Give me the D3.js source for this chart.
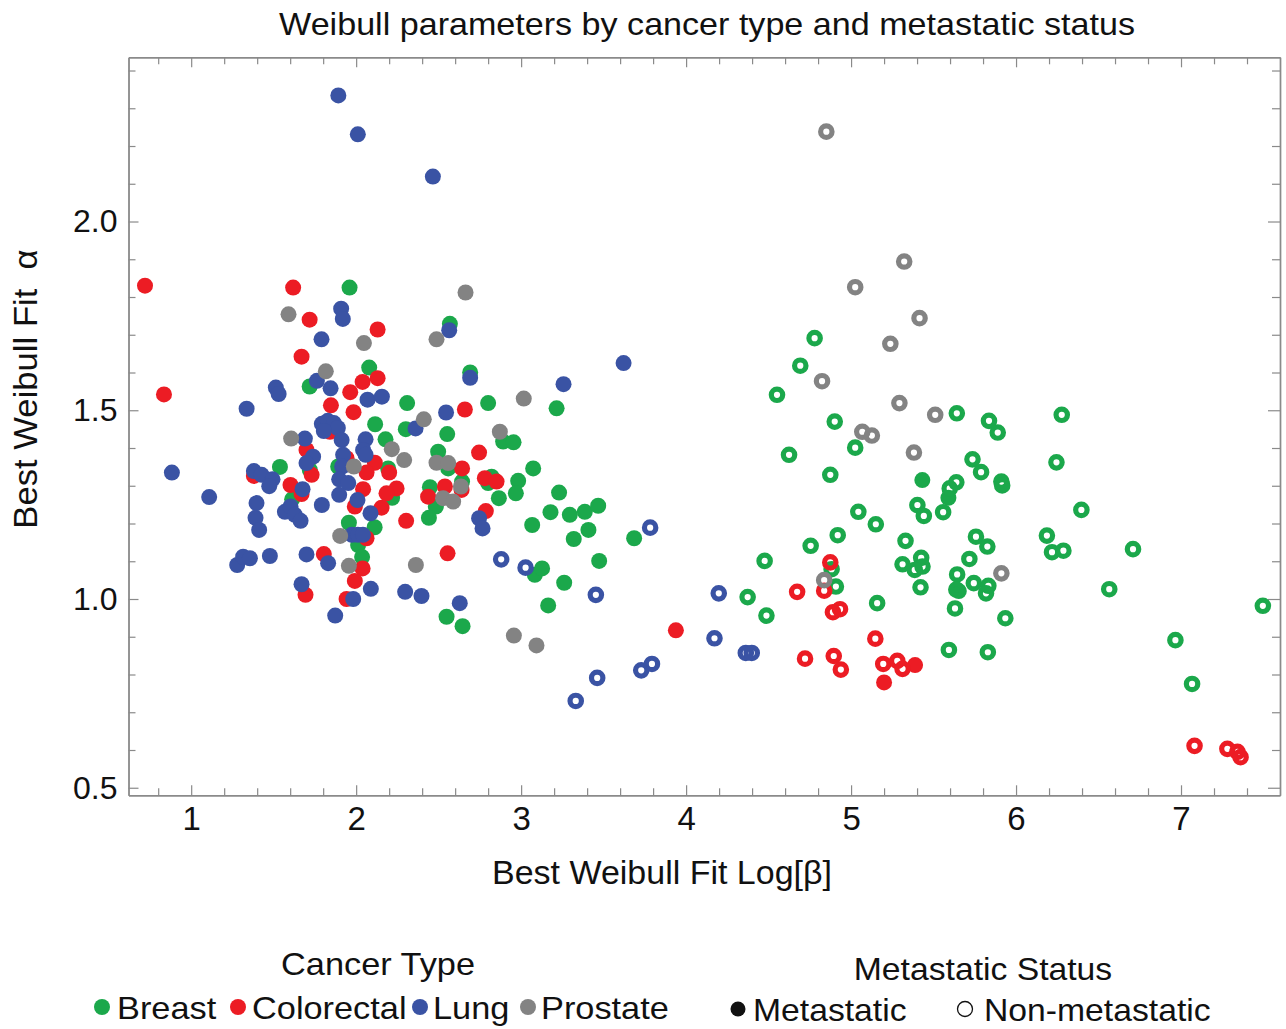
<!DOCTYPE html>
<html>
<head>
<meta charset="utf-8">
<script src="https://cdn.jsdelivr.net/npm/d3@7"></script>
<style>
  body { margin: 0; background: #fff; }
  text { font-family: "Liberation Sans", Arial, Helvetica, sans-serif; fill: #111; }
</style>
</head>
<body>
<svg id="chart" width="1286" height="1029"></svg>
<script>
// ---- data: [Log(beta), alpha] per cancer type and metastatic status ----
const cancerTypes = ["Breast", "Colorectal", "Lung", "Prostate"];
const typeColors = ["#1ba84b", "#ec1c24", "#3a53a4", "#838383"];
const statusLabels = ["Metastatic", "Non-metastatic"];
const xTickValues = [1, 2, 3, 4, 5, 6, 7];
const yTickValues = [0.5, 1.0, 1.5, 2.0];

const breastMetastatic = [
  [1.960,1.825],[2.079,1.613],[1.718,1.563],[2.691,1.600],[2.309,1.519],[2.800,1.519],
  [2.115,1.463],[2.301,1.450],[2.552,1.437],[2.178,1.423],[1.538,1.350],[1.719,1.342],
  [1.891,1.351],[2.194,1.346],[2.218,1.268],[2.447,1.296],[2.483,1.245],[2.441,1.215],
  [1.612,1.264],[1.956,1.202],[2.112,1.190],[2.012,1.143],[2.036,1.111],[2.548,0.953],
  [2.645,0.928],[3.215,1.505],[2.891,1.417],[2.954,1.415],[2.497,1.390],[2.558,1.346],
  [3.073,1.346],[2.982,1.313],[2.968,1.280],[2.821,1.324],[2.800,1.307],[2.642,1.311],
  [2.865,1.267],[3.230,1.282],[3.178,1.230],[3.295,1.223],[3.386,1.231],[3.467,1.247],
  [3.408,1.183],[3.319,1.159],[3.067,1.196],[3.685,1.161],[3.083,1.064],[3.127,1.081],
  [3.473,1.101],[3.261,1.043],[3.164,0.983],[5.432,1.315],[5.590,1.268],[5.653,1.021],
  [2.568,1.729]
];
const breastNonMetastatic = [
  [4.779,1.691],[4.692,1.618],[4.551,1.541],[5.641,1.492],[5.836,1.472],[5.889,1.441],
  [6.277,1.488],[4.901,1.470],[5.025,1.401],[4.624,1.382],[5.736,1.370],[6.245,1.362],
  [5.788,1.336],[4.874,1.329],[5.638,1.309],[5.598,1.293],[5.911,1.311],[5.916,1.301],
  [6.396,1.236],[5.402,1.249],[5.441,1.220],[5.558,1.230],[5.044,1.231],[5.150,1.198],
  [4.919,1.169],[4.755,1.141],[5.330,1.154],[5.757,1.165],[5.826,1.139],[6.187,1.168],
  [6.218,1.124],[6.287,1.128],[6.709,1.132],[4.476,1.101],[5.312,1.092],[5.425,1.109],
  [5.433,1.086],[5.386,1.077],[5.717,1.106],[4.882,1.079],[4.908,1.033],[5.643,1.065],
  [5.744,1.042],[5.832,1.035],[5.818,1.015],[5.638,1.025],[5.421,1.031],[5.630,0.975],
  [5.935,0.949],[6.565,1.026],[7.496,0.982],[5.158,0.989],[4.373,1.005],[4.487,0.956],
  [5.593,0.865],[5.829,0.859],[6.966,0.891],[7.067,0.775]
];
const colorectalMetastatic = [
  [0.720,1.830],[0.835,1.542],[1.618,1.825],[1.718,1.740],[2.130,1.714],[1.669,1.642],
  [2.130,1.585],[2.039,1.575],[1.964,1.548],[1.847,1.513],[1.984,1.495],[2.659,1.502],
  [1.841,1.443],[2.745,1.388],[1.699,1.395],[1.942,1.373],[2.113,1.361],[2.063,1.335],
  [2.200,1.335],[1.380,1.326],[1.730,1.329],[1.602,1.302],[1.669,1.278],[2.042,1.291],
  [2.245,1.293],[2.184,1.280],[1.992,1.245],[2.436,1.271],[2.538,1.298],[2.639,1.289],
  [2.642,1.346],[2.780,1.320],[2.851,1.311],[2.786,1.233],[2.154,1.242],[2.303,1.207],
  [2.063,1.161],[1.804,1.119],[2.554,1.121],[2.039,1.081],[1.992,1.048],[1.693,1.011],
  [1.942,1.000],[3.938,0.917],[5.388,0.825],[5.200,0.779]
];
const colorectalNonMetastatic = [
  [4.673,1.019],[4.837,1.022],[4.874,1.097],[4.890,0.965],[4.933,0.973],[4.721,0.842],
  [4.895,0.849],[4.938,0.813],[5.147,0.895],[5.195,0.828],[5.280,0.836],[5.312,0.815],
  [7.082,0.611],[7.281,0.603],[7.342,0.595],[7.361,0.581]
];
const lungMetastatic = [
  [1.892,2.334],[2.010,2.231],[2.465,2.119],[0.883,1.335],[1.109,1.270],[1.909,1.769],
  [1.919,1.742],[2.564,1.712],[1.790,1.688],[1.762,1.578],[1.845,1.558],[1.513,1.560],
  [1.530,1.543],[2.069,1.528],[2.156,1.536],[2.691,1.586],[1.336,1.504],[2.545,1.494],
  [1.792,1.464],[1.828,1.472],[1.865,1.466],[1.889,1.453],[1.804,1.445],[2.360,1.452],
  [1.689,1.425],[1.912,1.421],[2.057,1.423],[3.621,1.625],[3.257,1.569],[1.739,1.377],
  [1.699,1.360],[1.380,1.339],[1.427,1.329],[1.493,1.317],[1.473,1.299],[1.921,1.382],
  [1.915,1.351],[2.042,1.395],[2.057,1.382],[1.897,1.317],[1.952,1.307],[1.675,1.291],
  [1.897,1.276],[2.008,1.262],[1.396,1.254],[1.390,1.215],[1.412,1.183],[1.568,1.231],
  [1.602,1.245],[1.628,1.223],[1.663,1.207],[1.792,1.249],[2.087,1.227],[2.745,1.214],
  [2.766,1.187],[1.974,1.170],[2.010,1.170],[2.041,1.170],[1.830,1.095],[1.699,1.118],
  [1.477,1.114],[1.279,1.090],[1.315,1.112],[1.356,1.108],[1.669,1.039],[1.982,1.000],
  [2.089,1.027],[2.297,1.019],[2.396,1.008],[2.628,0.989],[1.873,0.956]
];
const lungNonMetastatic = [
  [2.879,1.105],[3.027,1.083],[3.453,1.011],[3.782,1.189],[3.331,0.730],[3.461,0.791],
  [3.728,0.811],[3.793,0.828],[4.172,0.896],[4.198,1.015],[4.362,0.857],[4.398,0.857]
];
const prostateMetastatic = [
  [2.663,1.812],[1.590,1.754],[2.047,1.678],[2.487,1.688],[1.816,1.603],[2.410,1.476],
  [1.606,1.425],[2.216,1.397],[2.291,1.368],[2.871,1.443],[1.986,1.351],[2.487,1.361],
  [2.558,1.360],[2.527,1.267],[2.588,1.258],[2.635,1.298],[3.016,1.531],[1.903,1.167],
  [1.956,1.088],[2.362,1.090],[2.956,0.903],[3.093,0.877]
];
const prostateNonMetastatic = [
  [4.850,2.238],[5.322,1.894],[5.025,1.826],[5.415,1.744],[5.238,1.676],[4.824,1.577],
  [5.293,1.519],[5.510,1.488],[5.068,1.443],[5.126,1.433],[5.381,1.388],[4.837,1.050],
  [5.911,1.068]
];

const seriesByType = [
  [breastMetastatic, breastNonMetastatic],
  [colorectalMetastatic, colorectalNonMetastatic],
  [lungMetastatic, lungNonMetastatic],
  [prostateMetastatic, prostateNonMetastatic]
];

// ---- layout ----
const svg = d3.select("#chart");
const plot = { left: 128.5, right: 1280, top: 57.3, bottom: 795.3 };
const x = d3.scaleLinear().domain([0.62, 7.6]).range([plot.left, plot.right]);
const y = d3.scaleLinear().domain([0.48, 2.435]).range([plot.bottom, plot.top]);
const frameColor = "#8a8a8a";

// minor tick positions (every 0.2 on x, every 0.1 on y)
const xMinor = d3.range(0.8, 7.5, 0.2).map(v => +v.toFixed(1)).filter(v => Math.abs(v - Math.round(v)) > 1e-6);
const yMinor = d3.range(0.5, 2.45, 0.1).map(v => +v.toFixed(1)).filter(v => Math.abs(v * 2 - Math.round(v * 2)) > 1e-6);

function styleAxis(g) {
  g.select(".domain").attr("stroke", frameColor).attr("stroke-width", 1.4);
  g.selectAll(".tick line").attr("stroke", frameColor).attr("stroke-width", 1.2);
}

// major axes with labels
svg.append("g").attr("transform", `translate(0,${plot.bottom})`)
  .call(d3.axisBottom(x).tickValues(xTickValues).tickFormat(d3.format("d")).tickSize(-10).tickSizeOuter(0).tickPadding(11))
  .call(styleAxis)
  .call(g => g.selectAll("text").attr("font-size", 33).attr("fill", "#111"));
svg.append("g").attr("transform", `translate(${plot.left},0)`)
  .call(d3.axisLeft(y).tickValues(yTickValues).tickFormat(d3.format(".1f")).tickSize(-10).tickSizeOuter(0).tickPadding(11))
  .call(styleAxis)
  .call(g => g.selectAll("text").attr("font-size", 32).attr("fill", "#111"));
// mirrored frame axes
svg.append("g").attr("transform", `translate(0,${plot.top})`)
  .call(d3.axisTop(x).tickValues(xTickValues).tickFormat("").tickSize(-10).tickSizeOuter(0))
  .call(styleAxis);
svg.append("g").attr("transform", `translate(${plot.right},0)`)
  .call(d3.axisRight(y).tickValues(yTickValues).tickFormat("").tickSize(-12).tickSizeOuter(0))
  .call(styleAxis);
// minor ticks on all four sides
svg.append("g").attr("transform", `translate(0,${plot.bottom})`)
  .call(d3.axisBottom(x).tickValues(xMinor).tickFormat("").tickSize(-7).tickSizeOuter(0)).call(styleAxis);
svg.append("g").attr("transform", `translate(0,${plot.top})`)
  .call(d3.axisTop(x).tickValues(xMinor).tickFormat("").tickSize(-7).tickSizeOuter(0)).call(styleAxis);
svg.append("g").attr("transform", `translate(${plot.left},0)`)
  .call(d3.axisLeft(y).tickValues(yMinor).tickFormat("").tickSize(-7).tickSizeOuter(0)).call(styleAxis);
svg.append("g").attr("transform", `translate(${plot.right},0)`)
  .call(d3.axisRight(y).tickValues(yMinor).tickFormat("").tickSize(-8).tickSizeOuter(0)).call(styleAxis);

// ---- points: filled = metastatic, ring = non-metastatic ----
const pts = svg.append("g");
seriesByType.forEach(([met, nonMet], i) => {
  const color = typeColors[i];
  pts.append("g").selectAll("circle").data(met).join("circle")
    .attr("cx", d => x(d[0])).attr("cy", d => y(d[1])).attr("r", 8)
    .attr("fill", color);
  pts.append("g").selectAll("circle").data(nonMet).join("circle")
    .attr("cx", d => x(d[0])).attr("cy", d => y(d[1])).attr("r", 5.7)
    .attr("fill", "none").attr("stroke", color).attr("stroke-width", 5.2);
});

// text with a slight horizontal stretch
function label(parent, tx, ty, str, size, stretch, anchor, angle) {
  return parent.append("text")
    .attr("transform", `translate(${tx},${ty}) rotate(${angle || 0}) scale(${stretch},1)`)
    .attr("text-anchor", anchor || "start")
    .attr("font-size", size)
    .style("white-space", "pre")
    .text(str);
}

// ---- titles ----
label(svg, 707, 35, "Weibull parameters by cancer type and metastatic status", 31, 1.1, "middle");
label(svg, 662, 883.5, "Best Weibull Fit Log[β]", 33, 1.03, "middle");
label(svg, 37, 389, "Best Weibull Fit  α", 33, 1.05, "middle", -90);

// ---- legends ----
const legend = svg.append("g");
label(legend, 378, 975, "Cancer Type", 31.5, 1.09, "middle");
const typeDotX = [102, 238, 420, 528];
const typeLabelX = [117, 252, 433, 541];
cancerTypes.forEach((name, i) => {
  legend.append("circle").attr("cx", typeDotX[i]).attr("cy", 1007).attr("r", 8).attr("fill", typeColors[i]);
  label(legend, typeLabelX[i], 1018.5, name, 31.5, 1.09, "start");
});
label(legend, 983, 980, "Metastatic Status", 31.5, 1.07, "middle");
const statusDotX = [738, 965];
const statusLabelX = [753, 984];
statusLabels.forEach((name, i) => {
  const c = legend.append("circle").attr("cx", statusDotX[i]).attr("cy", 1009).attr("r", 7.5);
  if (i === 0) c.attr("fill", "#111");
  else c.attr("fill", "none").attr("stroke", "#111").attr("stroke-width", 1.3);
  label(legend, statusLabelX[i], 1020.5, name, 31.5, 1.07, "start");
});
</script>
</body>
</html>
